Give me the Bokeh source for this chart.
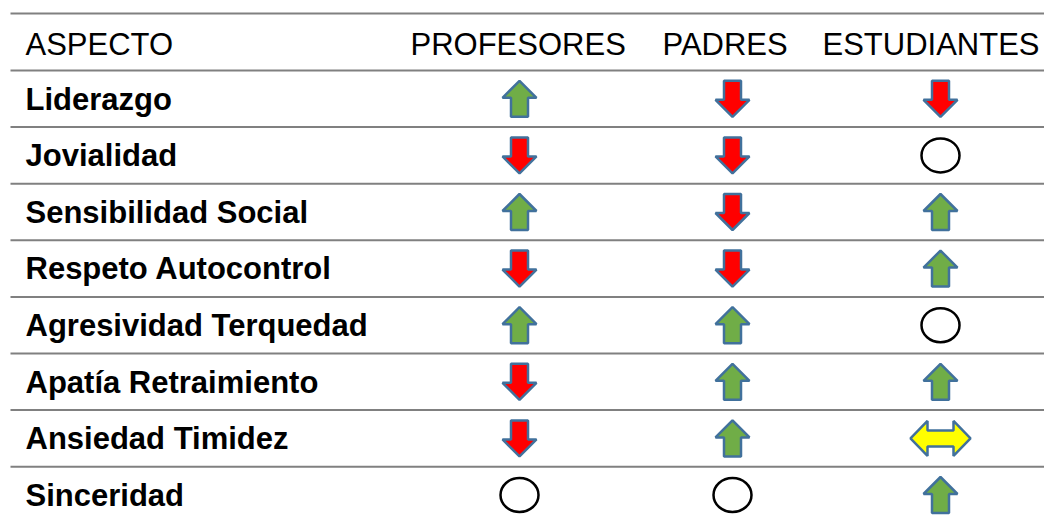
from bokeh.plotting import figure
from bokeh.models import Range1d, ColumnDataSource
from bokeh.core.properties import value
from bokeh.embed import file_html
from bokeh.resources import INLINE

# ---- data ----
header_first = "ASPECTO"
groups = ["PROFESORES", "PADRES", "ESTUDIANTES"]
aspects = ["Liderazgo", "Jovialidad", "Sensibilidad Social", "Respeto Autocontrol",
           "Agresividad Terquedad", "Apatía Retraimiento", "Ansiedad Timidez", "Sinceridad"]
# "up" = sube, "down" = baja, "same" = circulo, "both" = doble flecha
profesores = ["up", "down", "up", "down", "up", "down", "down", "same"]
padres = ["down", "down", "down", "down", "up", "up", "up", "same"]
estudiantes = ["down", "same", "up", "up", "same", "up", "both", "up"]
series = [profesores, padres, estudiantes]

# ---- layout (page-pixel coordinates) ----
W, H = 1044, 516
ROW0, ROWH = 70.0, 56.6
HEADER_TOP = 13.0
COL_X = [519, 732, 940]
HEADER_X = [410, 662, 822]
LABEL_X = 25
FONT = value("Liberation Sans")

GREEN, RED, YELLOW, EDGE = "#70AD47", "#FF0000", "#FFFF00", "#41719C"

UP = [(0, -18), (17, -1), (8.5, -1), (8.5, 18), (-8.5, 18), (-8.5, -1), (-17, -1)]
DOWN = [(x, -y) for x, y in UP]
BOTH = [(-30, 0), (-13, -17.5), (-13, -8), (13, -8), (13, -17.5), (30, 0),
        (13, 17.5), (13, 8), (-13, 8), (-13, 17.5)]
SHAPES = {"up": (UP, GREEN), "down": (DOWN, RED), "both": (BOTH, YELLOW)}

p = figure(width=W, height=H, output_backend="svg", toolbar_location=None,
           x_range=Range1d(0, W), y_range=Range1d(H, 0),
           min_border=0, outline_line_color=None)
p.axis.visible = False
p.grid.visible = False
p.background_fill_color = "white"
p.border_fill_color = "white"

# horizontal rules
line_y = [HEADER_TOP] + [ROW0 + i * ROWH for i in range(len(aspects))]
p.segment(x0=[10] * len(line_y), x1=[W] * len(line_y), y0=line_y, y1=line_y,
          line_color="#808080", line_width=2)

# header
p.text(x=[LABEL_X] + HEADER_X, y=[HEADER_TOP + 31] * 4, text=[header_first] + groups,
       text_font=FONT, text_font_size="31px", text_color="black",
       text_baseline="alphabetic", text_align="left")

# row labels
row_tops = [ROW0 + i * ROWH for i in range(len(aspects))]
p.text(x=[LABEL_X] * len(aspects), y=[t + 28.5 for t in row_tops], text=aspects,
       text_font=FONT, text_font_size="31px", text_font_style="bold",
       text_color="black", text_baseline="alphabetic", text_align="left")

# symbols
xs, ys, fills = [], [], []
ex, ey = [], []
for ci, col in enumerate(series):
    for ri, v in enumerate(col):
        cx = COL_X[ci]
        cy = row_tops[ri] + ROWH / 2
        if v == "same":
            ex.append(cx)
            ey.append(cy)
            continue
        shape, color = SHAPES[v]
        xs.append([cx + dx for dx, dy in shape])
        ys.append([cy + dy for dx, dy in shape])
        fills.append(color)

p.patches(xs="xs", ys="ys", fill_color="fill", line_color=EDGE, line_width=2.5,
          source=ColumnDataSource(dict(xs=xs, ys=ys, fill=fills)))
p.ellipse(x=ex, y=ey, width=38, height=34, fill_color="white",
          line_color="black", line_width=2.5)

open("out.html", "w").write(file_html(p, INLINE))
